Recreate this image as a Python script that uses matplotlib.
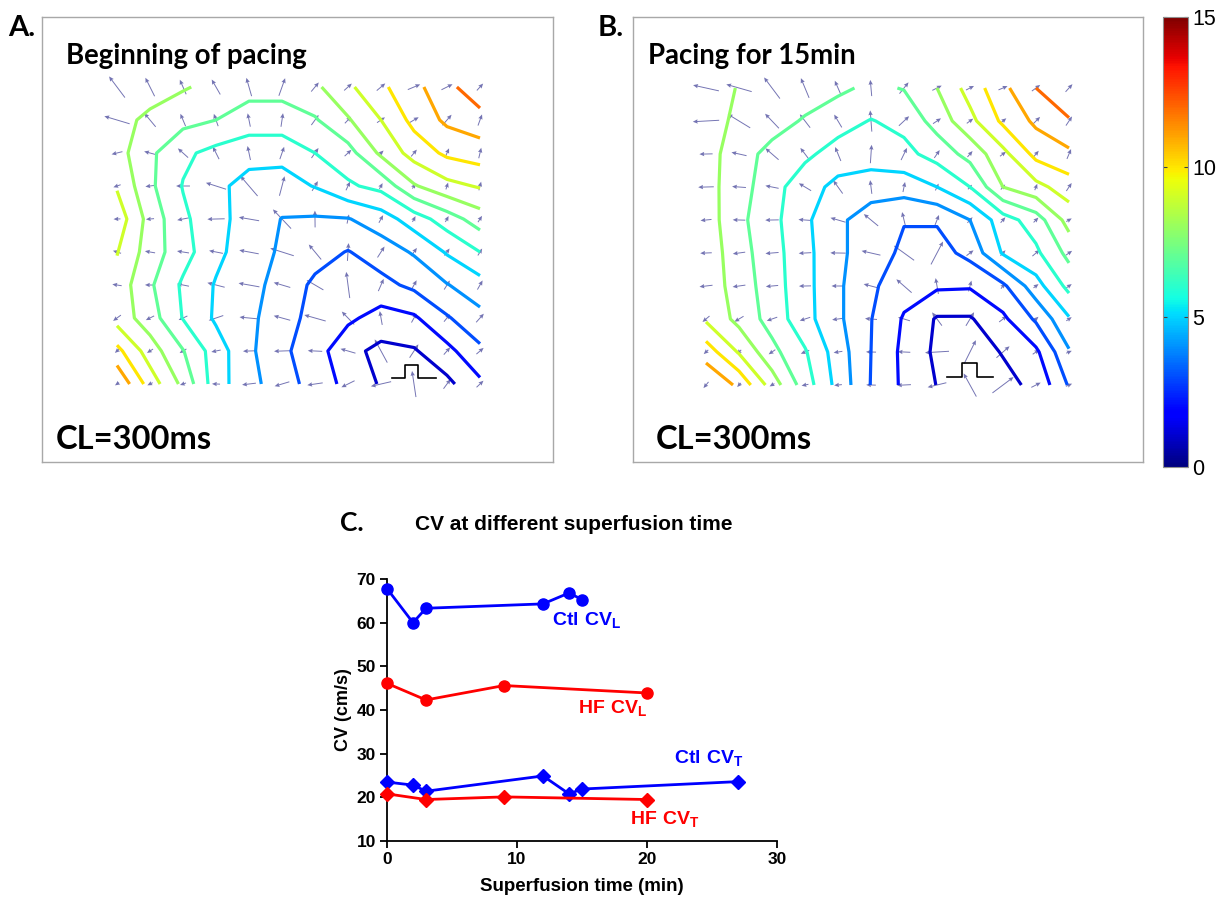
import numpy as np
import matplotlib
matplotlib.use("Agg")
import matplotlib.pyplot as plt
from matplotlib import cm, colors

plt.rcParams['font.family'] = ['Liberation Sans', 'DejaVu Sans']
plt.rcParams['mathtext.fontset'] = 'custom'
plt.rcParams['mathtext.rm'] = 'Liberation Sans'
plt.rcParams['mathtext.bf'] = 'Liberation Sans:bold'

# ---------------- data ----------------
# activation time maps (ms), rows top->bottom, columns left->right
act_A = [
    [8.7, 8.4, 8.1, 7.7, 7.3, 7.3, 7.8, 8.8, 9.8, 10.7, 11.7, 12.7],
    [8.3, 7.8, 7.3, 7.0, 6.6, 6.6, 6.9, 7.9, 9.0, 10.3, 11.2, 11.6],
    [8.4, 7.2, 6.2, 5.7, 5.3, 5.3, 6.0, 6.6, 8.2, 9.4, 10.2, 10.5],
    [8.9, 7.2, 5.95, 5.2, 4.7, 4.6, 5.05, 5.85, 6.3, 7.9, 8.7, 9.1],
    [9.6, 7.6, 6.2, 5.3, 4.6, 3.97, 3.9, 3.95, 4.5, 5.5, 6.5, 7.5],
    [9.05, 7.5, 6.4, 5.24, 4.47, 3.86, 3.4, 2.95, 3.5, 4.1, 5.1, 6.0],
    [8.6, 7.15, 5.84, 4.92, 4.34, 3.63, 2.8, 2.4, 2.7, 3.23, 3.95, 4.6],
    [8.6, 7.46, 5.95, 4.85, 4.24, 3.4, 2.68, 2.2, 1.6, 1.85, 2.9, 3.7],
    [10.3, 8.5, 7.05, 5.5, 4.2, 3.2, 2.46, 1.28, 0.75, 0.9, 1.7, 2.8],
    [11.9, 9.55, 7.75, 5.44, 4.32, 3.46, 2.59, 1.7, 0.9, 0.4, 0.75, 1.8],
]
act_B = [
    [8.4, 7.95, 7.7, 7.5, 7.2, 6.8, 7.05, 8.0, 9.4, 10.75, 12.0, 12.9],
    [8.3, 7.85, 7.4, 6.9, 6.4, 5.95, 6.3, 7.4, 8.7, 10.2, 11.2, 11.9],
    [8.45, 7.4, 6.7, 6.2, 5.6, 5.5, 5.7, 6.4, 7.35, 8.7, 10.3, 10.8],
    [8.35, 7.46, 6.36, 5.45, 4.7, 4.45, 4.45, 5.0, 6.0, 8.0, 8.7, 9.5],
    [8.5, 7.25, 6.3, 5.2, 4.2, 3.5, 3.05, 3.1, 4.0, 5.55, 6.5, 8.4],
    [8.6, 7.4, 6.4, 5.3, 4.2, 3.5, 2.8, 2.6, 3.3, 5.1, 5.8, 7.3],
    [8.6, 7.55, 6.47, 5.32, 4.17, 3.18, 2.4, 2.15, 2.1, 2.8, 4.6, 6.3],
    [8.85, 7.7, 6.6, 5.35, 4.2, 3.03, 1.9, 0.9, 0.9, 1.8, 3.15, 4.9],
    [10.55, 8.9, 7.3, 6.1, 4.5, 3.0, 1.75, 0.8, 0.6, 1.05, 1.8, 3.9],
    [11.9, 10.8, 8.55, 6.5, 4.67, 2.96, 1.8, 0.97, 0.4, 0.75, 1.2, 3.1],
]
contour_levels = [1, 2, 3, 4, 5, 6, 7, 8, 9, 10, 11, 12]
cbar_ticks = [0, 5, 10, 15]

# CV vs superfusion time
ctl_cvl_t = [0, 2, 3, 12, 14, 15]
ctl_cvl = [67.8, 60.0, 63.3, 64.3, 66.8, 65.3]
hf_cvl_t = [0, 3, 9, 20]
hf_cvl = [46.1, 42.3, 45.6, 43.9]
ctl_cvt_t = [0, 2, 3, 12, 14, 15, 27]
ctl_cvt = [23.5, 22.8, 21.4, 24.9, 20.8, 21.9, 23.6]
hf_cvt_t = [0, 3, 9, 20]
hf_cvt = [20.8, 19.5, 20.1, 19.5]

# ---------------- figure ----------------
W, H = 1225, 898
fig = plt.figure(figsize=(W / 100, H / 100), dpi=100)


def fx(px):
    return px / W


def fy(py):
    return 1 - py / H


norm = colors.Normalize(vmin=0, vmax=15)
GRID = 33.0  # px per grid cell


def draw_map(box, grid_origin, T, pulse):
    l, t, r, b = box
    ax = fig.add_axes([fx(l), fy(b), (r - l) / W, (b - t) / H])
    T = np.array(T, dtype=float)
    nr, nc = T.shape
    X, Y = np.meshgrid(np.arange(nc), np.arange(nr))
    ax.contour(X, Y, T, levels=contour_levels, cmap='jet', norm=norm,
               linewidths=2.3)
    gy, gx = np.gradient(T)
    m2 = gx ** 2 + gy ** 2
    U = 0.42 * gx / m2
    V = 0.42 * gy / m2
    L = np.hypot(U, V)
    f = np.minimum(1.0, 0.8 / L)
    ax.quiver(X, Y, U * f, V * f, angles='xy', scale_units='xy', scale=1,
              pivot='middle', color='#5c5ca6', width=0.0019, headwidth=4.5,
              headlength=5, headaxislength=4.5, alpha=0.85)
    gx0, gy0 = grid_origin
    ax.set_xlim((l - gx0) / GRID, (r - gx0) / GRID)
    ax.set_ylim((b - gy0) / GRID, (t - gy0) / GRID)
    ax.set_xticks([])
    ax.set_yticks([])
    for s in ax.spines.values():
        s.set_color('#a8a8a8')
        s.set_linewidth(1.0)
    # stimulus pulse symbol
    px = [(p - gx0) / GRID for p in pulse[0]]
    py = [(p - gy0) / GRID for p in pulse[1]]
    ax.plot(px, py, color='black', lw=1.2)
    return ax


pulseA = ([392, 405, 405, 418, 418, 436], [378, 378, 365, 365, 378, 378])
pulseB = ([947, 962, 962, 977, 977, 993], [377, 377, 363, 363, 377, 377])

axA = draw_map((42, 17, 553, 462), (117, 87), act_A, pulseA)
axB = draw_map((633, 17, 1143, 462), (706, 88), act_B, pulseB)

tfont = ['Lato', 'DejaVu Sans']
fig.text(fx(66), fy(56), 'Beginning of pacing', family=tfont, weight='bold',
         fontsize=19.8, va='center', ha='left')
fig.text(fx(648), fy(56), 'Pacing for 15min', family=tfont, weight='bold',
         fontsize=19.8, va='center', ha='left')
fig.text(fx(56), fy(440), 'CL=300ms', family=tfont, weight='bold',
         fontsize=23.5, va='center', ha='left')
fig.text(fx(656), fy(440), 'CL=300ms', family=tfont, weight='bold',
         fontsize=23.5, va='center', ha='left')
fig.text(fx(8), fy(28), 'A.', family=tfont, weight='bold', fontsize=21,
         va='center', ha='left')
fig.text(fx(598), fy(28), 'B.', family=tfont, weight='bold', fontsize=21,
         va='center', ha='left')
fig.text(fx(340), fy(523), 'C.', family=tfont, weight='bold', fontsize=19,
         va='center', ha='left')

# colorbar
cax = fig.add_axes([fx(1163), fy(467), 25 / W, 450 / H])
cb = fig.colorbar(cm.ScalarMappable(norm=norm, cmap='jet'), cax=cax,
                  ticks=cbar_ticks)
cb.outline.set_edgecolor('#909090')
cb.outline.set_linewidth(0.8)
cax.tick_params(direction='in', length=3, width=0.8, color='#404040',
                labelsize=15.5, left=True, right=True, pad=3)

# ---------------- panel C ----------------
axC = fig.add_axes([fx(387), fy(841), 390 / W, 262 / H])
blue, red = '#0000ff', '#ff0000'
axC.plot(ctl_cvl_t, ctl_cvl, '-o', color=blue, lw=2, ms=8, clip_on=False, zorder=3)
axC.plot(hf_cvl_t, hf_cvl, '-o', color=red, lw=2, ms=8, clip_on=False, zorder=3)
axC.plot(ctl_cvt_t, ctl_cvt, '-D', color=blue, lw=2, ms=7.5, clip_on=False, zorder=3)
axC.plot(hf_cvt_t, hf_cvt, '-D', color=red, lw=2, ms=7.5, clip_on=False, zorder=3)
axC.set_xlim(0, 30)
axC.set_ylim(10, 70)
axC.set_xticks([0, 10, 20, 30])
axC.set_yticks([10, 20, 30, 40, 50, 60, 70])
for s in ['top', 'right']:
    axC.spines[s].set_visible(False)
for s in ['left', 'bottom']:
    axC.spines[s].set_linewidth(1.3)
axC.tick_params(direction='out', length=5, width=1.3, labelsize=12.5, pad=3)
for lab in axC.get_xticklabels() + axC.get_yticklabels():
    lab.set_fontweight('bold')
axC.set_xlabel('Superfusion time (min)', fontsize=13.5, weight='bold', labelpad=8)
axC.set_ylabel('CV (cm/s)', fontsize=13, weight='bold', labelpad=3)
axC.set_title('CV at different superfusion time', fontsize=15, weight='bold',
              x=0.48, y=1.0, pad=35)

axC.text(12.7, 60.6, r'$\mathbf{Ctl\ CV_{L}}$', color=blue, fontsize=14, va='center')
axC.text(14.7, 40.5, r'$\mathbf{HF\ CV_{L}}$', color=red, fontsize=14, va='center')
axC.text(22.1, 29.0, r'$\mathbf{Ctl\ CV_{T}}$', color=blue, fontsize=14, va='center')
axC.text(18.7, 15.0, r'$\mathbf{HF\ CV_{T}}$', color=red, fontsize=14, va='center')

fig.savefig('out.png', dpi=100)
